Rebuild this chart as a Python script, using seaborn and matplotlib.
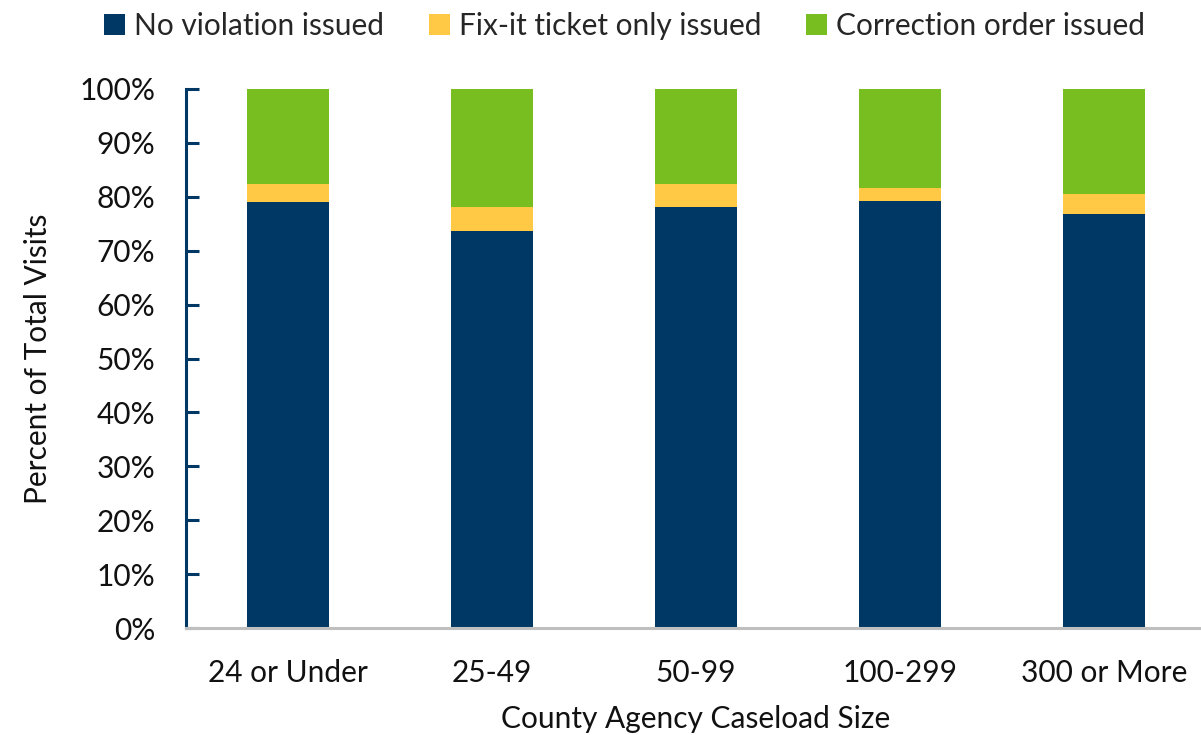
import matplotlib
matplotlib.use("Agg")
import matplotlib.pyplot as plt
import seaborn as sns
import pandas as pd
import numpy as np
from matplotlib.ticker import PercentFormatter
from matplotlib.patches import Patch

categories = ["24 or Under", "25-49", "50-99", "100-299", "300 or More"]
no_violation = [79.0, 73.7, 78.1, 79.2, 76.8]
fixit_only = [3.4, 4.4, 4.3, 2.4, 3.7]
correction_order = [17.6, 21.9, 17.6, 18.4, 19.5]
series_names = ["No violation issued", "Fix-it ticket only issued", "Correction order issued"]
colors = ["#003865", "#FFC845", "#78BE21"]

sns.set_theme(style="white")
plt.rcParams['font.family'] = ['Lato', 'DejaVu Sans']

FS = 21.5

fig = plt.figure(figsize=(12.01, 7.35), dpi=100)
ax = fig.add_axes([186/1201, 1 - 628/735, (1201 - 186)/1201 + 0.004, (628 - 89)/735])

df = pd.DataFrame({"cat": categories, "a": no_violation, "b": fixit_only, "c": correction_order})
bottom = np.zeros(len(categories))
for col, name, color in zip(["a", "b", "c"], series_names, colors):
    sns.barplot(data=df, x="cat", y=col, color=color, width=0.4, bottom=bottom,
                ax=ax, saturation=1, edgecolor="none", linewidth=0)
    bottom = bottom + df[col].values

ax.set_xlim(-0.5, 4.5)
ax.set_ylim(0, 100)
ax.set_yticks(np.arange(0, 101, 10))
ax.yaxis.set_major_formatter(PercentFormatter(decimals=0))

for s in ["top", "right"]:
    ax.spines[s].set_visible(False)
ax.spines["left"].set_color("#003865")
ax.spines["left"].set_linewidth(2.2)
ax.spines["bottom"].set_color("#BFBFBF")
ax.spines["bottom"].set_linewidth(2.2)

ax.tick_params(axis="y", direction="in", length=9, width=2.2, color="#003865",
               labelsize=FS, pad=22, left=True, labelcolor="#111111")
ax.tick_params(axis="x", length=0, labelsize=FS, pad=22, labelcolor="#111111")

ax.set_xlabel("County Agency Caseload Size", fontsize=FS, labelpad=13, color="#111111")
ax.set_ylabel("Percent of Total Visits", fontsize=FS, labelpad=20, color="#111111")

handles = [Patch(facecolor=c, edgecolor="none", label=n) for c, n in zip(colors, series_names)]
fig.legend(handles=handles, loc="upper center", bbox_to_anchor=(0.52, 1.02), ncol=3,
           frameon=False, fontsize=FS, handlelength=0.7, handleheight=0.7,
           handletextpad=0.3, columnspacing=1.5)

fig.savefig("out.png", dpi=100)
